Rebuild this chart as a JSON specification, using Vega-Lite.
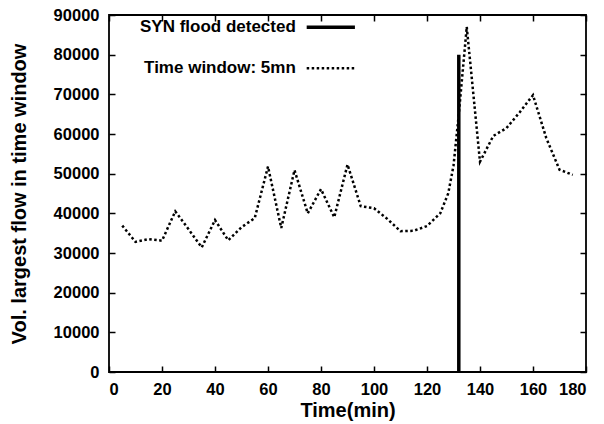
{
  "$schema": "https://vega.github.io/schema/vega-lite/v6.json",
  "width": 477,
  "height": 357,
  "autosize": {"type": "none"},
  "padding": {"left": 109, "top": 15, "right": 18, "bottom": 52},
  "background": "white",
  "config": {
    "view": {"stroke": "black", "strokeWidth": 1.8},
    "axis": {
      "grid": false,
      "domain": false,
      "labelFont": "Liberation Sans",
      "labelFontWeight": "bold",
      "labelFontSize": 16.5,
      "labelColor": "black",
      "titleFont": "Liberation Sans",
      "titleFontWeight": "bold",
      "titleFontSize": 20,
      "titleColor": "black",
      "tickColor": "black",
      "tickSize": -6,
      "tickWidth": 1.5
    }
  },
  "datasets": {
    "traffic": [
      {"time": 5, "vol": 36900},
      {"time": 10, "vol": 32800},
      {"time": 15, "vol": 33500},
      {"time": 20, "vol": 33100},
      {"time": 25, "vol": 40500},
      {"time": 30, "vol": 36000},
      {"time": 35, "vol": 31400},
      {"time": 40, "vol": 38300},
      {"time": 45, "vol": 33200},
      {"time": 50, "vol": 36500},
      {"time": 55, "vol": 38800},
      {"time": 60, "vol": 51800},
      {"time": 65, "vol": 36300},
      {"time": 70, "vol": 50900},
      {"time": 75, "vol": 40000},
      {"time": 80, "vol": 46100},
      {"time": 85, "vol": 39000},
      {"time": 90, "vol": 52300},
      {"time": 95, "vol": 41800},
      {"time": 100, "vol": 41300},
      {"time": 105, "vol": 38600},
      {"time": 110, "vol": 35500},
      {"time": 115, "vol": 35600},
      {"time": 120, "vol": 36800},
      {"time": 125, "vol": 40000},
      {"time": 128, "vol": 45000},
      {"time": 130, "vol": 52000},
      {"time": 132, "vol": 65000},
      {"time": 135, "vol": 87000},
      {"time": 140, "vol": 53000},
      {"time": 145, "vol": 59500},
      {"time": 150, "vol": 61500},
      {"time": 155, "vol": 65500},
      {"time": 160, "vol": 69800},
      {"time": 165, "vol": 59000},
      {"time": 170, "vol": 51000},
      {"time": 175, "vol": 49700}
    ],
    "flood": [{"time": 132, "low": 0, "high": 80000}],
    "legend": [
      {"label": "SYN flood detected", "tx": 70.5, "x1": 74.6, "x2": 92.8, "ly": 86900, "kind": "solid"},
      {"label": "Time window: 5mn", "tx": 70.5, "x1": 74.6, "x2": 92.8, "ly": 76600, "kind": "dotted"}
    ]
  },
  "layer": [
    {
      "data": {"name": "traffic"},
      "mark": {"type": "line", "color": "black", "strokeWidth": 2.5, "strokeDash": [2.5, 2.5]},
      "encoding": {
        "x": {
          "field": "time", "type": "quantitative",
          "scale": {"domain": [0, 180], "nice": false},
          "axis": {"orient": "bottom", "values": [0, 20, 40, 60, 80, 100, 120, 140, 160, 180], "title": "Time(min)", "labelPadding": 15, "titlePadding": 3}
        },
        "y": {
          "field": "vol", "type": "quantitative",
          "scale": {"domain": [0, 90000], "nice": false},
          "axis": {"orient": "left", "format": "d", "values": [0, 10000, 20000, 30000, 40000, 50000, 60000, 70000, 80000, 90000], "title": "Vol. largest flow in time window", "labelPadding": 16, "titlePadding": 24}
        }
      }
    },
    {
      "data": {"name": "flood"},
      "mark": {"type": "rule", "color": "black", "strokeWidth": 3.5},
      "encoding": {
        "x": {
          "field": "time", "type": "quantitative",
          "axis": {"orient": "top", "labels": false, "title": null, "values": [0, 20, 40, 60, 80, 100, 120, 140, 160, 180]}
        },
        "y": {
          "field": "low", "type": "quantitative",
          "axis": {"orient": "right", "labels": false, "title": null, "values": [0, 10000, 20000, 30000, 40000, 50000, 60000, 70000, 80000, 90000]}
        },
        "y2": {"field": "high"}
      }
    },
    {
      "data": {"name": "legend"},
      "mark": {"type": "text", "align": "right", "baseline": "middle", "font": "Liberation Sans", "fontWeight": "bold", "fontSize": 17, "color": "black"},
      "encoding": {
        "x": {"field": "tx", "type": "quantitative", "axis": null},
        "y": {"field": "ly", "type": "quantitative", "axis": null},
        "text": {"field": "label"}
      }
    },
    {
      "data": {"name": "legend"},
      "transform": [{"filter": "datum.kind === 'solid'"}],
      "mark": {"type": "rule", "color": "black", "strokeWidth": 3.5},
      "encoding": {
        "x": {"field": "x1", "type": "quantitative", "axis": null},
        "x2": {"field": "x2"},
        "y": {"field": "ly", "type": "quantitative", "axis": null}
      }
    },
    {
      "data": {"name": "legend"},
      "transform": [{"filter": "datum.kind === 'dotted'"}],
      "mark": {"type": "rule", "color": "black", "strokeWidth": 2.5, "strokeDash": [2.5, 2.5]},
      "encoding": {
        "x": {"field": "x1", "type": "quantitative", "axis": null},
        "x2": {"field": "x2"},
        "y": {"field": "ly", "type": "quantitative", "axis": null}
      }
    }
  ],
  "resolve": {"axis": {"x": "independent", "y": "independent"}}
}
